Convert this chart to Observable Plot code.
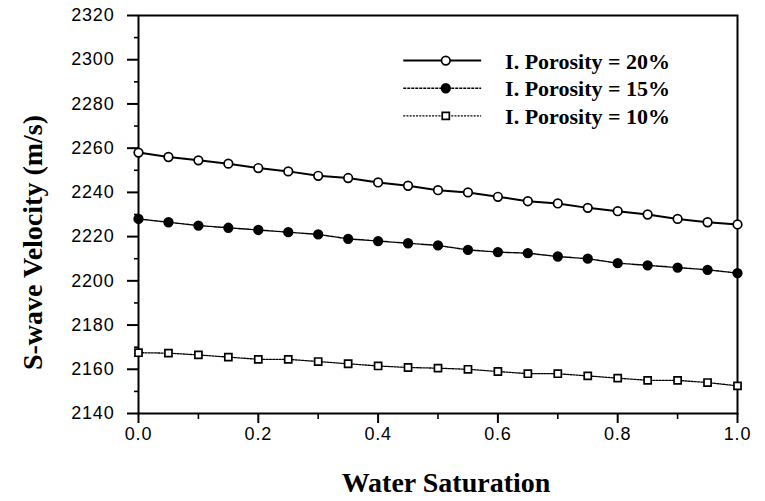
<!DOCTYPE html>
<html>
<head>
<meta charset="utf-8">
<script src="https://cdn.jsdelivr.net/npm/d3@7"></script>
<script src="https://cdn.jsdelivr.net/npm/@observablehq/plot@0.6"></script>
<style>
  html, body { margin: 0; padding: 0; background: #fff; }
  #chart svg { display: block; }
  g[aria-label="x-axis tick label"] text, g[aria-label="y-axis tick label"] text { letter-spacing: 0.8px; }
</style>
</head>
<body>
<div id="chart"></div>
<script>
// ---- data ----
const waterSaturation = [0, 0.05, 0.1, 0.15, 0.2, 0.25, 0.3, 0.35, 0.4, 0.45, 0.5,
  0.55, 0.6, 0.65, 0.7, 0.75, 0.8, 0.85, 0.9, 0.95, 1.0];
const vs20 = [2258, 2256, 2254.5, 2253, 2251, 2249.5, 2247.5, 2246.5, 2244.5, 2243, 2241,
  2240, 2238, 2236, 2235, 2233, 2231.5, 2230, 2228, 2226.5, 2225.5];
const vs15 = [2228, 2226.5, 2225, 2224, 2223, 2222, 2221, 2219, 2218, 2217, 2216,
  2214, 2213, 2212.5, 2211, 2210, 2208, 2207, 2206, 2205, 2203.5];
const vs10 = [2167.5, 2167.3, 2166.5, 2165.5, 2164.5, 2164.5, 2163.5, 2162.5, 2161.5, 2160.8, 2160.5,
  2160, 2159, 2158, 2158, 2157, 2156, 2155, 2155, 2154, 2152.5];
const seriesLabels = ["I. Porosity = 20%", "I. Porosity = 15%", "I. Porosity = 10%"];
const xTicks = [0, 0.2, 0.4, 0.6, 0.8, 1.0];
const xMinorTicks = [0.1, 0.3, 0.5, 0.7, 0.9];
const yTicks = [2140, 2160, 2180, 2200, 2220, 2240, 2260, 2280, 2300, 2320];
const yMinorTicks = [2150, 2170, 2190, 2210, 2230, 2250, 2270, 2290, 2310];
const xLabel = "Water Saturation";
const yLabel = "S-wave Velocity (m/s)";

// ---- build ----
const seriesValues = [vs20, vs15, vs10];
const styles = [
  {strokeWidth: 2, dash: null, symbol: "circle", fill: "white", r: 4.3},
  {strokeWidth: 1.4, dash: "3,1", symbol: "circle", fill: "black", r: 4.3},
  {strokeWidth: 1.3, dash: "2,1.2", symbol: "square", fill: "white", r: 4}
];
const rows = [];
seriesValues.forEach((vals, i) => {
  vals.forEach((v, j) => rows.push({s: i, x: waterSaturation[j], y: v}));
});

// legend placed in data coordinates
const legendX1 = 0.442, legendX2 = 0.572, legendXm = 0.513, legendXt = 0.612;
const legendTop = 2299.6, legendStep = 12.5;
const legendRows = seriesLabels.map((label, i) => ({s: i, label, y: legendTop - i * legendStep}));

const serif = "'Liberation Serif', 'Times New Roman', serif";
const sans = "'Liberation Sans', Arial, Helvetica, sans-serif";

const marks = [];
styles.forEach((st, i) => {
  const d = rows.filter(r => r.s === i);
  const lg = legendRows.filter(r => r.s === i);
  marks.push(Plot.line(d, {x: "x", y: "y", stroke: "black", strokeWidth: st.strokeWidth, strokeDasharray: st.dash}));
  marks.push(Plot.link(lg, {x1: () => legendX1, x2: () => legendX2, y1: "y", y2: "y", stroke: "black", strokeWidth: st.strokeWidth, strokeDasharray: st.dash}));
  marks.push(Plot.dot(d, {x: "x", y: "y", symbol: st.symbol, r: st.r, fill: st.fill, stroke: "black", strokeWidth: 1.7}));
  marks.push(Plot.dot(lg, {x: () => legendXm, y: "y", symbol: st.symbol, r: st.r, fill: st.fill, stroke: "black", strokeWidth: 1.7}));
});
marks.push(Plot.text(legendRows, {x: () => legendXt, y: "y", text: "label", textAnchor: "start", dy: 1,
  fontFamily: serif, fontWeight: "bold", fontSize: 22, fill: "black"}));

const chart = Plot.plot({
  width: 765,
  height: 501,
  marginLeft: 138,
  marginRight: 28,
  marginTop: 15,
  marginBottom: 88,
  style: {background: "white", color: "black", fontFamily: sans, fontSize: "18px"},
  x: {domain: [0, 1]},
  y: {domain: [2140, 2320]},
  marks: [
    Plot.axisX({ticks: xTicks, tickFormat: d3.format(".1f"), tickSize: 10, tickPadding: 4,
      fontSize: 18, fontFamily: sans, label: null, strokeWidth: 2}),
    Plot.axisX({ticks: xMinorTicks, tickFormat: () => "", tickSize: 6, label: null, strokeWidth: 1.6}),
    Plot.axisY({ticks: yTicks, tickFormat: d => String(d), tickSize: 11, tickPadding: 13,
      fontSize: 18, fontFamily: sans, label: null, strokeWidth: 2}),
    Plot.axisY({ticks: yMinorTicks, tickFormat: () => "", tickSize: 4, label: null, strokeWidth: 1.6}),
    Plot.frame({stroke: "black", strokeWidth: 2}),
    ...marks,
    Plot.text([xLabel], {frameAnchor: "bottom", text: d => d, textAnchor: "middle", lineAnchor: "bottom",
      dx: 8, dy: 78, fontFamily: serif, fontWeight: "bold", fontSize: 28, fill: "black"}),
    Plot.text([yLabel], {frameAnchor: "left", text: d => d, textAnchor: "middle", lineAnchor: "middle",
      rotate: -90, dx: -105, dy: 28, fontFamily: serif, fontWeight: "bold", fontSize: 28, fill: "black"})
  ]
});
document.getElementById("chart").appendChild(chart);
</script>
</body>
</html>
